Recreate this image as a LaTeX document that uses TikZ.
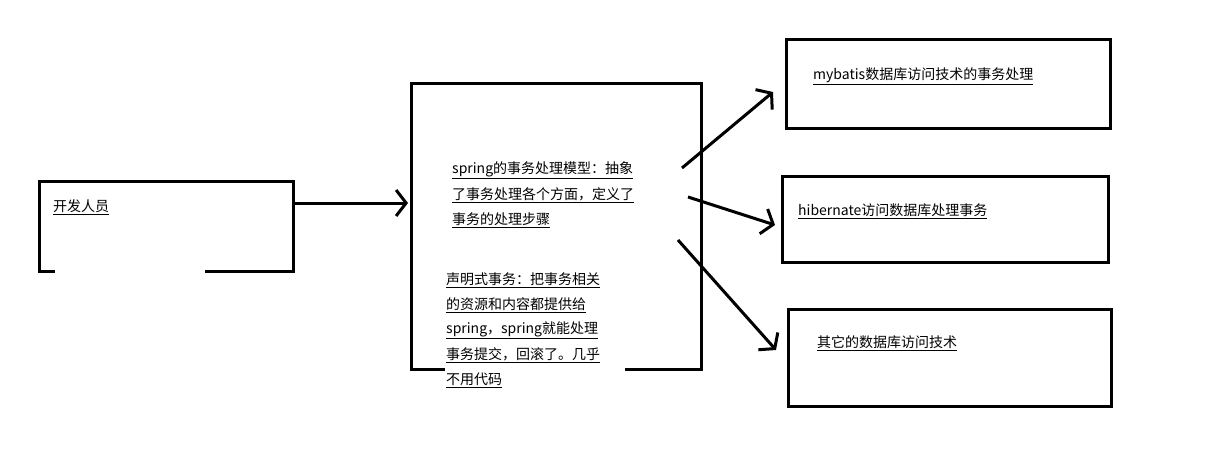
\documentclass[tikz,border=0pt]{standalone}
\usepackage{fontspec}
\setmainfont{Noto Sans CJK SC}
\usetikzlibrary{arrows.meta}
\tikzset{
  box/.style={draw=black,line width=3pt},
  arr/.style={line width=3pt,-{Straight Barb[length=10pt,width=26pt,line width=3pt]}},
  lbl/.style={anchor=west,inner sep=0pt,font=\fontsize{14}{16}\selectfont},
  wfill/.style={fill=white,draw=none}
}
\begin{document}
\begin{tikzpicture}[x=1pt,y=-1pt]
\useasboundingbox (0,0) rectangle (1224,455);
\node[box,minimum width=254pt,minimum height=90pt,anchor=north west] (dev) at (38,180) {};
\fill[white] (55,267) rectangle (205,273);
\node[box,minimum width=290pt,minimum height=286pt,anchor=north west] (spr) at (410,82) {};
\fill[white] (445,345) rectangle (625,372);
\node[box,minimum width=324pt,minimum height=89pt,anchor=north west] (mb) at (785,38) {};
\node[box,minimum width=326pt,minimum height=86pt,anchor=north west] (hb) at (781,175) {};
\node[box,minimum width=323pt,minimum height=97pt,anchor=north west] (ot) at (787,308) {};
\node[lbl] (t0) at (53,207) {\underline{开发人员}};
\node[lbl] (t1) at (452,170) {\underline{spring的事务处理模型：抽象}};
\node[lbl] (t2) at (452,195) {\underline{了事务处理各个方面，定义了}};
\node[lbl] (t3) at (452,220) {\underline{事务的处理步骤}};
\node[lbl] (s1) at (446,280) {\underline{声明式事务：把事务相关}};
\node[lbl] (s2) at (446,305) {\underline{的资源和内容都提供给}};
\node[lbl] (s3) at (446,330) {\underline{spring，spring就能处理}};
\node[lbl] (s4) at (446,355) {\underline{事务提交，回滚了。几乎}};
\node[lbl] (s5) at (446,380) {\underline{不用代码}};
\node[lbl] (m1) at (813,76) {\underline{mybatis数据库访问技术的事务处理}};
\node[lbl] (h1) at (798,211) {\underline{hibernate访问数据库处理事务}};
\node[lbl] (o1) at (817,343) {\underline{其它的数据库访问技术}};
\coordinate (a0) at (292,203); \coordinate (b0) at (408,203);
\coordinate (a1) at (682,168); \coordinate (b1) at (773,92);
\coordinate (a2) at (688,197); \coordinate (b2) at (775,225);
\coordinate (a3) at (678,240); \coordinate (b3) at (776,350);
\draw[arr] (a0) -- (b0);
\draw[arr] (a1) -- (b1);
\draw[arr] (a2) -- (b2);
\draw[arr] (a3) -- (b3);
\end{tikzpicture}
\end{document}
